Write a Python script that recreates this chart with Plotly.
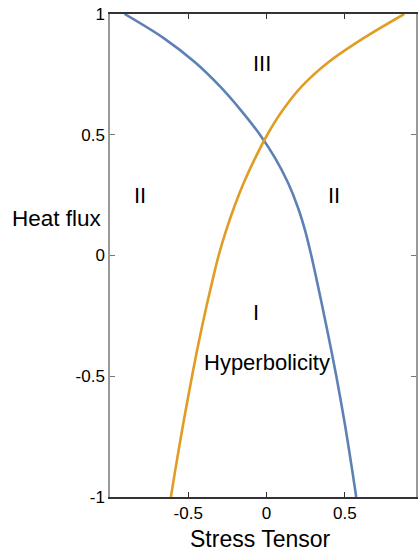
import plotly.graph_objects as go

# Blue curve, ordered by heat flux
blue_y = [1.0, 0.9, 0.8, 0.7, 0.6, 0.5, 0.4, 0.3, 0.2, 0.1, 0.0,
          -0.1, -0.2, -0.3, -0.4, -0.5, -0.6, -0.7, -0.8, -0.9, -1.0]
blue_x = [-0.907, -0.657, -0.457, -0.297, -0.162, -0.042, 0.058, 0.138, 0.200, 0.248, 0.286,
          0.320, 0.353, 0.385, 0.416, 0.446, 0.474, 0.501, 0.526, 0.550, 0.573]

# Orange curve
orange_y = [-1.0, -0.9, -0.8, -0.7, -0.6, -0.5, -0.4, -0.3, -0.2, -0.1, 0.0,
            0.1, 0.2, 0.3, 0.4, 0.5, 0.6, 0.7, 0.8, 0.9, 1.0]
orange_x = [-0.611, -0.586, -0.560, -0.533, -0.505, -0.476, -0.446, -0.414, -0.380, -0.344, -0.306,
            -0.260, -0.207, -0.146, -0.075, 0.005, 0.102, 0.225, 0.395, 0.620, 0.880]

region_text = ["III", "II", "II", "I", "Hyperbolicity"]
region_x = [-0.03, -0.81, 0.43, -0.07, 0.0]
region_y = [0.793, 0.25, 0.25, -0.235, -0.445]

tick_vals_x = [-0.5, 0, 0.5]
tick_text_x = ["-0.5", "0", "0.5"]
tick_vals_y = [-1, -0.5, 0, 0.5, 1]
tick_text_y = ["-1", "-0.5", "0", "0.5", "1"]

FONT = "Liberation Sans, Arial, sans-serif"

fig = go.Figure()
fig.add_trace(go.Scatter(x=blue_x, y=blue_y, mode="lines",
                         line=dict(color="#5E81B5", width=2.6, shape="spline", smoothing=1),
                         hoverinfo="skip", showlegend=False))
fig.add_trace(go.Scatter(x=orange_x, y=orange_y, mode="lines",
                         line=dict(color="#E19C24", width=2.6, shape="spline", smoothing=1),
                         hoverinfo="skip", showlegend=False))

for t, x, y in zip(region_text, region_x, region_y):
    fig.add_annotation(x=x, y=y, text=t, showarrow=False,
                       font=dict(family=FONT, size=22, color="black"))

fig.add_annotation(xref="paper", yref="paper", x=-0.172, y=0.576, text="Heat flux",
                   showarrow=False, xanchor="center", yanchor="middle",
                   font=dict(family=FONT, size=22.5, color="black"))
fig.add_annotation(xref="x", yref="paper", x=-0.038, y=-0.056, text="Stress Tensor",
                   showarrow=False, xanchor="center", yanchor="top",
                   font=dict(family=FONT, size=23, color="black"))

fig.update_layout(
    width=418, height=554,
    margin=dict(l=110, r=0, t=14, b=57),
    plot_bgcolor="white", paper_bgcolor="white",
    showlegend=False,
    xaxis=dict(range=[-1.0, 0.955], tickvals=tick_vals_x, ticktext=tick_text_x,
               ticks="inside", ticklen=5, tickcolor="#333", tickwidth=1,
               showline=True, linecolor="#333", linewidth=1.5, mirror="allticks",
               showgrid=False, zeroline=False,
               tickfont=dict(family=FONT, size=17, color="black")),
    yaxis=dict(range=[-1.0, 1.0], tickvals=tick_vals_y, ticktext=tick_text_y,
               ticks="inside", ticklen=5, tickcolor="#777", tickwidth=1,
               showline=True, linecolor="#999", linewidth=1.5, mirror="ticks",
               showgrid=False, zeroline=False,
               tickfont=dict(family=FONT, size=17, color="black")),
)

fig.write_html("out.html")
